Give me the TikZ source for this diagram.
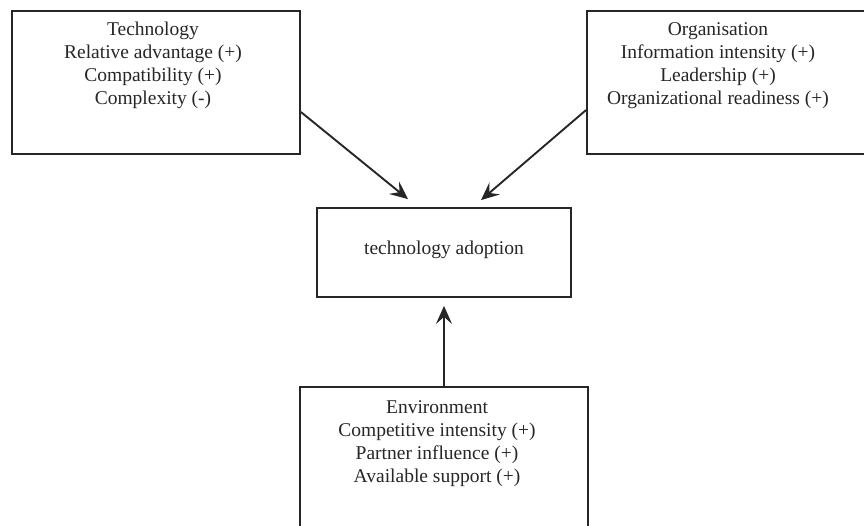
\documentclass[tikz,border=0pt]{standalone}
\usepackage{fontspec}
\setmainfont{Liberation Serif}
\usetikzlibrary{arrows.meta}
\begin{document}
\begin{tikzpicture}[x=1pt,y=-1pt,
  box/.style={draw=black!85,line width=1.8pt,minimum width=#1,inner sep=0pt},
  txt/.style={align=center,font=\fontsize{19.5}{23}\selectfont,text=black!85,inner sep=0pt,anchor=base},
  arr/.style={draw=black!85,line width=1.9pt,-{Stealth[length=18pt,width=16pt,inset=7pt]}}]
\useasboundingbox (0,0) rectangle (864,526);
\clip (0,0) rectangle (864,526);
\node[box=288pt,minimum height=143pt] (tech) at (156,82.5) {};
\node[box=293pt,minimum height=143pt] (org) at (733.5,82.5) {};
\node[box=254pt,minimum height=89pt] (adopt) at (444,252.5) {};
\node[box=288pt,minimum height=160pt] (env) at (444,467) {};
\node[txt] (techt) at (153,105) {Technology\\Relative advantage (+)\\Compatibility (+)\\Complexity (-)};
\node[txt] (orgt) at (718,105) {Organisation\\Information intensity (+)\\Leadership (+)\\Organizational readiness (+)};
\node[txt] (adoptt) at (444,255) {technology adoption};
\node[txt] (envt) at (437,482) {Environment\\Competitive intensity (+)\\Partner influence (+)\\Available support (+)};
\draw[arr] ([yshift=-29.5pt]tech.east) -- ([xshift=-36pt,yshift=8pt]adopt.north);
\draw[arr] ([yshift=-27.5pt]org.west) -- ([xshift=37pt,yshift=7pt]adopt.north);
\draw[arr] (env.north) -- ([yshift=-8pt]adopt.south);
\end{tikzpicture}
\end{document}
